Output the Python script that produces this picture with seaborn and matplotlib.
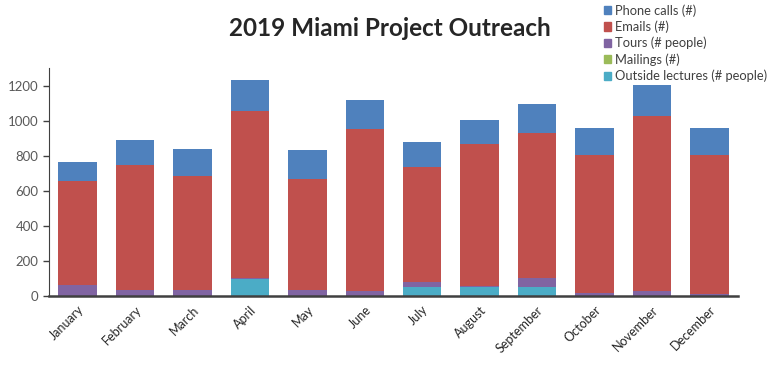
import pandas as pd
import matplotlib.pyplot as plt
import matplotlib.patches as mpatches
import seaborn as sns

sns.set_style('white')
plt.rcParams['font.family'] = ['Lato', 'DejaVu Sans']

# Values
months = ['January', 'February', 'March', 'April', 'May', 'June',
          'July', 'August', 'September', 'October', 'November', 'December']
lectures = [0, 0, 0, 95, 0, 0, 50, 50, 50, 0, 0, 0]
mailings = [0, 0, 0, 2, 0, 0, 0, 0, 0, 0, 0, 0]
tours = [60, 33, 35, 8, 35, 30, 32, 7, 55, 15, 30, 12]
emails = [597, 712, 651, 948, 634, 922, 653, 812, 822, 790, 996, 793]
phone = [107, 142, 152, 177, 165, 164, 143, 137, 166, 151, 177, 155]

series = ['Outside lectures (# people)', 'Mailings (#)', 'Tours (# people)', 'Emails (#)', 'Phone calls (#)']
colors = ['#4BACC6', '#9BBB59', '#8064A2', '#C0504D', '#4F81BD']

df = pd.DataFrame({'month': months,
                   series[0]: lectures, series[1]: mailings, series[2]: tours,
                   series[3]: emails, series[4]: phone})
# Cumulative sums so each layer can be drawn on top of the previous one
cum = df[series].cumsum(axis=1)
cum['month'] = months

fig = plt.figure(figsize=(7.68, 3.75), dpi=100)
ax = fig.add_axes([0.0638, 0.2107, 0.8972, 0.608])

# Draw from the tallest (total) down to the smallest so the stack shows
for name, col in reversed(list(zip(series, colors))):
    sns.barplot(data=cum, x='month', y=name, color=col, saturation=1,
                width=0.67, ax=ax, edgecolor='none')

ax.set_xlim(-0.5, 11.5)
ax.set_ylim(0, 1300)
ax.set_yticks(range(0, 1201, 200))
ax.set(xlabel=None, ylabel=None)
ax.tick_params(axis='y', left=True, length=4, width=1, colors='#595959', labelsize=9.5)
ax.tick_params(axis='x', bottom=False, labelsize=9, pad=2)
plt.setp(ax.get_xticklabels(), rotation=45, ha='right', rotation_mode='anchor')
ax.tick_params(axis='y', color='#404040')

sns.despine(ax=ax)
ax.spines['left'].set_color('#404040')
ax.spines['bottom'].set_color('#404040')
ax.spines['bottom'].set_linewidth(1.8)

fig.text(0.508, 0.925, '2019 Miami Project Outreach', ha='center', va='center',
         fontsize=17.5, fontweight='bold')

handles = [mpatches.Patch(color=c, label=s) for s, c in zip(series, colors)][::-1]
leg = fig.legend(handles=handles, loc='upper left', bbox_to_anchor=(0.776, 1.01),
                 frameon=False, fontsize=9.3, handlelength=0.6, handleheight=0.6,
                 handletextpad=0.3, labelspacing=0.3, borderaxespad=0.2)
for t in leg.get_texts():
    t.set_color('#404040')

fig.savefig('out.png', dpi=100)
